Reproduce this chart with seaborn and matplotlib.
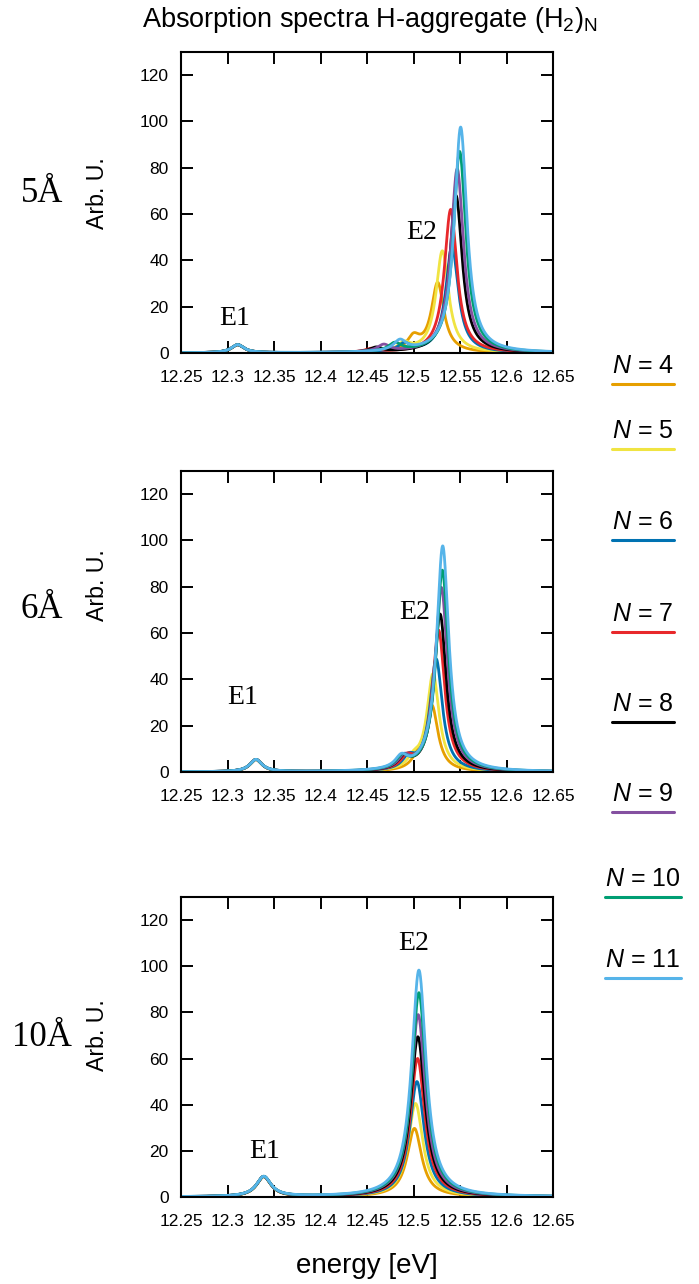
import numpy as np
import pandas as pd
import matplotlib
matplotlib.use("Agg")
import matplotlib.pyplot as plt
from matplotlib.lines import Line2D
import seaborn as sns

# ---------------- data ----------------
N_values = [4, 5, 6, 7, 8, 9, 10, 11]
colors = ["#E69F00", "#F0E442", "#0072B2", "#E8282B", "#000000", "#8450A0", "#009E73", "#56B4E9"]
panel_labels = ["5Å", "6Å", "10Å"]
x_ticks = [12.25, 12.3, 12.35, 12.4, 12.45, 12.5, 12.55, 12.6, 12.65]
y_ticks = [0, 20, 40, 60, 80, 100, 120]

# Lorentzian half widths (eV) per panel
gamma = [0.0082, 0.008, 0.0095]

# E2 main stick positions / intensities per N
e2_pos_5A = [12.526, 12.531, 12.5414, 12.540, 12.5457, 12.547, 12.5496, 12.5507]
e2_int_5A = [30.0, 44.0, 46.0, 62.0, 68.0, 79.5, 87.0, 97.5]
sh_pos_5A = [12.500, 12.490, 12.490, 12.455, 12.460, 12.468, 12.480, 12.4855]
sh_int_5A = [6.0, 3.5, 3.5, 1.5, 2.0, 3.0, 3.5, 4.5]
e1_pos_5A = [12.311] * 8
e1_int_5A = [3.5] * 8

e2_pos_6A = [12.5198, 12.521, 12.5244, 12.527, 12.5286, 12.530, 12.531, 12.5314]
e2_int_6A = [28.0, 42.0, 48.5, 61.0, 68.0, 79.5, 87.0, 97.5]
sh_pos_6A = [12.505, 12.500, 12.495, 12.493, 12.490, 12.490, 12.488, 12.487]
sh_int_6A = [4.0, 4.0, 5.0, 5.0, 5.0, 5.0, 5.0, 5.0]
e1_pos_6A = [12.3306] * 8
e1_int_6A = [5.3] * 8

e2_pos_10A = [12.501, 12.5022, 12.5037, 12.5044, 12.5047, 12.505, 12.5058, 12.5058]
e2_int_10A = [29.7, 40.5, 50.0, 60.0, 69.4, 79.0, 88.5, 98.3]
sh_pos_10A = [12.45] * 8
sh_int_10A = [0.0] * 8
e1_pos_10A = [12.339] * 8
e1_int_10A = [8.7] * 8

panels = [
    (e2_pos_5A, e2_int_5A, sh_pos_5A, sh_int_5A, e1_pos_5A, e1_int_5A),
    (e2_pos_6A, e2_int_6A, sh_pos_6A, sh_int_6A, e1_pos_6A, e1_int_6A),
    (e2_pos_10A, e2_int_10A, sh_pos_10A, sh_int_10A, e1_pos_10A, e1_int_10A),
]


def lorentz(x, x0, a, g):
    return a * g**2 / ((x - x0) ** 2 + g**2)


# ---------------- style ----------------
sns.set_style("ticks")
plt.rcParams["font.family"] = ["Liberation Sans", "DejaVu Sans"]
plt.rcParams["mathtext.fontset"] = "custom"
plt.rcParams["mathtext.rm"] = "Liberation Sans"
plt.rcParams["mathtext.it"] = "Liberation Sans:italic"
plt.rcParams["axes.linewidth"] = 1.5
plt.rcParams["text.color"] = "black"
plt.rcParams["axes.labelcolor"] = "black"
plt.rcParams["xtick.color"] = "black"
plt.rcParams["ytick.color"] = "black"

W, H = 699, 1284
fig = plt.figure(figsize=(W / 100, H / 100), dpi=100)

ax_left, ax_right = 181, 553
ax_tb = [(52, 353), (471, 772), (897, 1197)]
e_labels_pos = [((12.509, 52), (12.308, 15)),
                ((12.5016, 69), (12.3167, 32)),
                ((12.5005, 110), (12.340, 19.5))]
label_y = [193, 610, 1037]
ylab_y = [193, 585, 1035]

grid = np.linspace(12.25, 12.65, 2001)

for p, (e2p, e2i, shp, shi, e1p, e1i) in enumerate(panels):
    top, bot = ax_tb[p]
    ax = fig.add_axes([ax_left / W, 1 - bot / H, (ax_right - ax_left) / W, (bot - top) / H])
    rows = []
    for k, n in enumerate(N_values):
        y = (lorentz(grid, e2p[k], e2i[k], gamma[p])
             + lorentz(grid, shp[k], shi[k], gamma[p])
             + lorentz(grid, e1p[k], e1i[k], gamma[p]))
        rows.append(pd.DataFrame({"energy": grid, "intensity": y, "N": n}))
    df = pd.concat(rows, ignore_index=True)
    sns.lineplot(data=df, x="energy", y="intensity", hue="N", hue_order=N_values,
                 palette=colors, ax=ax, legend=False, linewidth=2.0)
    ax.set_xlim(12.25, 12.65)
    ax.set_ylim(0, 130)
    ax.set_xticks(x_ticks)
    ax.set_xticklabels([f"{t:g}" for t in x_ticks])
    ax.set_yticks(y_ticks)
    ax.set_xlabel("")
    ax.set_ylabel("")
    for s in ax.spines.values():
        s.set_visible(True)
        s.set_linewidth(1.5)
        s.set_color("black")
    ax.tick_params(direction="in", length=8.5, width=1.4, top=True, right=True,
                   labelsize=12.5, colors="black")
    ax.tick_params(axis="x", pad=12)
    ax.tick_params(axis="y", pad=9)
    (x2, y2), (x1, y1) = e_labels_pos[p]
    ax.text(x2, y2, "E2", ha="center", va="center", fontsize=20, family="Liberation Serif")
    ax.text(x1, y1, "E1", ha="center", va="center", fontsize=20, family="Liberation Serif")
    fig.text(42 / W, 1 - label_y[p] / H, panel_labels[p], ha="center", va="center",
             fontsize=25, family="Liberation Serif")
    fig.text(97 / W, 1 - ylab_y[p] / H, "Arb. U.", ha="center", va="center",
             rotation=90, fontsize=16.7)

fig.text(370 / W, 1 - 20 / H, r"Absorption spectra H-aggregate (H$_2$)$_\mathrm{N}$",
         ha="center", va="center", fontsize=19.5)
fig.text(367 / W, 1 - 1266 / H, "energy [eV]", ha="center", va="center", fontsize=20)

# legend
leg_text_y = [366, 431, 522, 614, 704, 794, 879, 960]
for k, n in enumerate(N_values):
    ty = leg_text_y[k]
    fig.text(643 / W, 1 - ty / H, rf"$\mathit{{N}}$ = {n}", ha="center", va="center", fontsize=18)
    half = 31 if n < 10 else 38
    fig.add_artist(Line2D([(643 - half) / W, (643 + half) / W],
                          [1 - (ty + 18) / H, 1 - (ty + 18) / H],
                          color=colors[k], lw=2.2, transform=fig.transFigure))

fig.savefig("out.png", dpi=100)
